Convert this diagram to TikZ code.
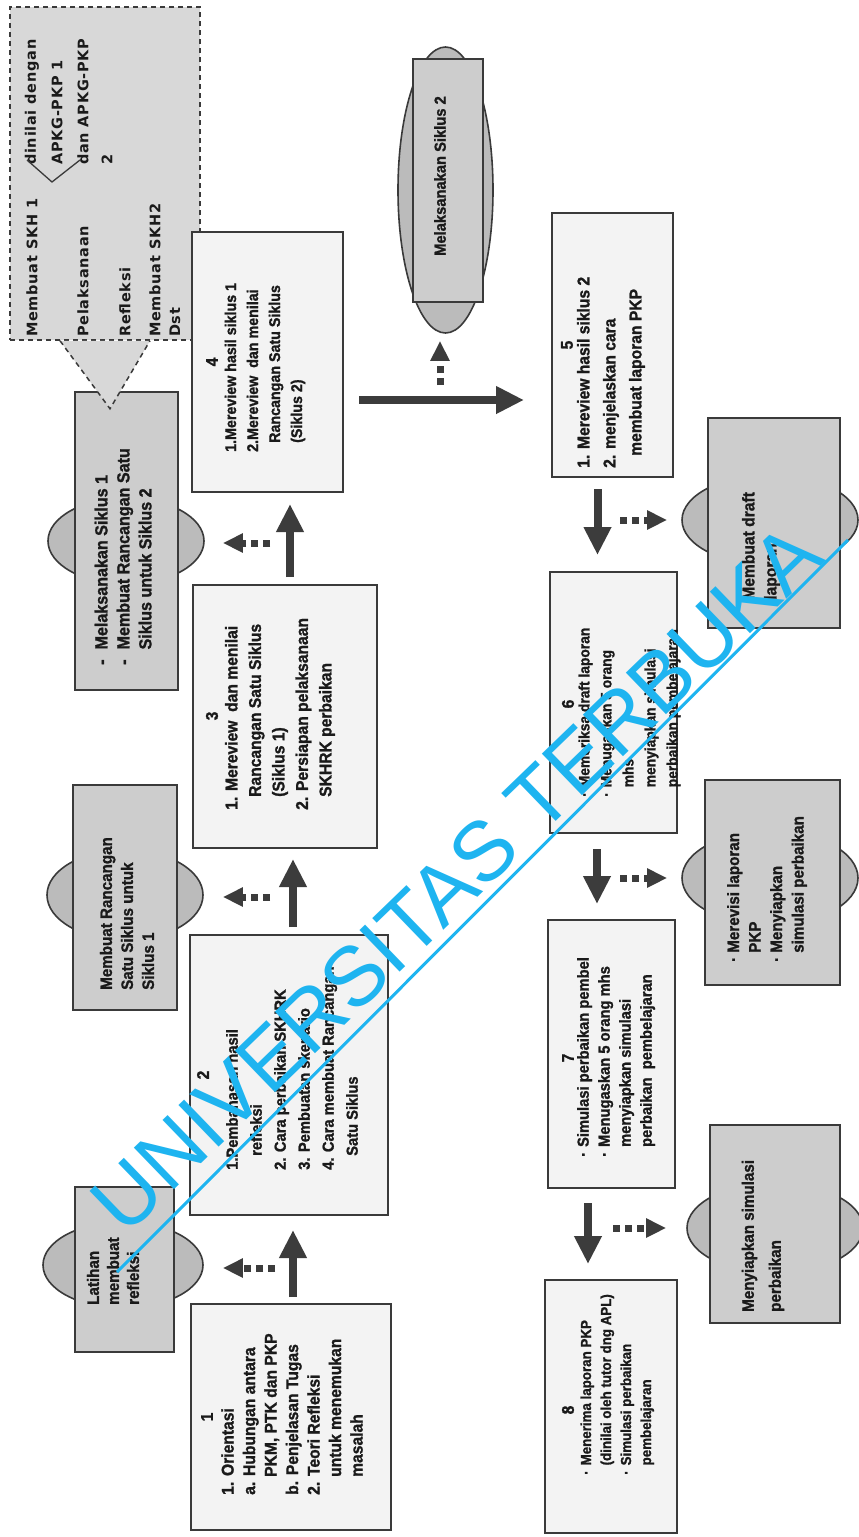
\documentclass[tikz,border=0pt]{standalone}
\usepackage{fontspec}
\setmainfont{Liberation Sans}
\newfontfamily\bx{Liberation Sans}[UprightFont={* Bold},FakeStretch=0.92,FakeBold=1.3]
\newfontfamily\dashfont{DejaVu Sans}[UprightFont={* Bold},LetterSpace=5]
\newfontfamily\wmfont{Liberation Sans}
\usetikzlibrary{arrows.meta,shapes.geometric}
\definecolor{ink}{HTML}{1A1A1A}
\definecolor{boxline}{HTML}{3A3A3A}
\definecolor{boxfill}{HTML}{F3F3F3}
\definecolor{grayfill}{HTML}{CDCDCD}
\definecolor{ovalfill}{HTML}{BBBBBB}
\definecolor{dashfill}{HTML}{D8D8D8}
\definecolor{arrowc}{HTML}{3C3C3C}
\definecolor{wmcyan}{HTML}{1EB4F0}
\begin{document}
\begin{tikzpicture}[x=1pt,y=-1pt,
  box/.style={draw=boxline,line width=2pt,fill=boxfill,rectangle,inner sep=0},
  grayrect/.style={draw=boxline,line width=1.6pt,fill=grayfill,rectangle,inner sep=0},
  oval/.style={ellipse,draw=boxline,line width=1.6pt,fill=ovalfill,inner sep=0},
  dashbox/.style={draw=boxline,line width=1.5pt,dash pattern=on 5pt off 4pt,fill=dashfill,rectangle,inner sep=0},
  txt/.style={rotate=90,anchor=west,inner sep=0,align=left,text=ink},
  num/.style={rotate=90,inner sep=0,text=ink,font=\bx\fontsize{17}{22}\selectfont},
  dtxt/.style={rotate=90,anchor=west,inner sep=0,text=ink,font=\dashfont\fontsize{14.5}{18}\selectfont},
  bigarrow/.style={draw=arrowc,line width=8pt,-{Triangle[width=26pt,length=28pt]}},
  dotarrow/.style={draw=arrowc,line width=7pt,dash pattern=on 7pt off 5pt,-{Triangle[width=18pt,length=20pt]}}
]
\useasboundingbox (0,0) rectangle (859,1537);
\fill[white] (0,0) rectangle (859,1537);

% ---------- dashed note box ----------
\node[dashbox,minimum width=190pt,minimum height=333pt] (db) at (105,173.5) {};

% ---------- gray ovals + rects ----------
\node[oval,minimum width=160pt,minimum height=86pt] (o1) at (123,1265) {};
\node[grayrect,minimum width=99pt,minimum height=165pt] (g1) at (124.5,1269.5) {};
\node[oval,minimum width=156pt,minimum height=90pt] (o2) at (125,895) {};
\node[grayrect,minimum width=104pt,minimum height=225pt] (g2) at (125,897.5) {};
\node[oval,minimum width=156pt,minimum height=86pt] (o3) at (126,541) {};
\node[grayrect,minimum width=103pt,minimum height=298pt] (g3) at (126.5,541) {};
\node[oval,minimum width=95pt,minimum height=286pt] (o4) at (445.5,190) {};
\node[grayrect,minimum width=70pt,minimum height=243pt] (g4) at (448,180.5) {};
\node[oval,minimum width=176pt,minimum height=90pt] (o5) at (770,520) {};
\node[grayrect,minimum width=132pt,minimum height=210pt] (g5) at (774,523) {};
\node[oval,minimum width=176pt,minimum height=94pt] (o6) at (770,878) {};
\node[grayrect,minimum width=135pt,minimum height=205pt] (g6) at (772.5,882.5) {};
\node[oval,minimum width=176pt,minimum height=90pt] (o7) at (775,1228) {};
\node[grayrect,minimum width=130pt,minimum height=198pt] (g7) at (775,1224) {};

% callout triangle
\fill[dashfill] ([xshift=-45pt]db.south) -- ([xshift=45pt]db.south) -- ([xshift=5pt,yshift=-68pt]db.south) -- cycle;
\draw[draw=boxline,line width=1.5pt,dash pattern=on 5pt off 4pt]
  ([xshift=-45pt]db.south) -- ([xshift=5pt,yshift=-68pt]db.south) -- ([xshift=45pt]db.south);

% ---------- white step boxes ----------
\node[box,minimum width=200pt,minimum height=226pt] (b1) at (291,1417) {};
\node[box,minimum width=198pt,minimum height=280pt] (b2) at (289,1075) {};
\node[box,minimum width=184pt,minimum height=263pt] (b3) at (285,716.5) {};
\node[box,minimum width=151pt,minimum height=260pt] (b4) at (267.5,362) {};
\node[box,minimum width=121pt,minimum height=264pt] (b5) at (612.5,345) {};
\node[box,minimum width=127pt,minimum height=261pt] (b6) at (613.5,702.5) {};
\node[box,minimum width=127pt,minimum height=268pt] (b7) at (611.5,1054) {};
\node[box,minimum width=132pt,minimum height=253pt] (b8) at (611,1406.5) {};

% ---------- numbers ----------
\node[num] (n1) at (207,1417) {1};
\node[num] (n2) at (203,1075) {2};
\node[num] (n3) at (212,716) {3};
\node[num] (n4) at (212,362) {4};
\node[num] (n5) at (567,345) {5};
\node[num] (n6) at (568,704) {6};
\node[num] (n7) at (568,1058) {7};
\node[num] (n8) at (568,1410) {8};

% ---------- box texts ----------
\node[txt,font=\bx\fontsize{17}{21.5}\selectfont] (t1) at (292,1495)
 {1. Orientasi\\a. Hubungan antara\\\hspace*{18pt}PKM, PTK dan PKP\\b. Penjelasan Tugas\\2. Teori Refleksi\\\hspace*{18pt}untuk menemukan\\\hspace*{18pt}masalah};
\node[txt,font=\bx\fontsize{16}{24}\selectfont] (t2) at (292,1170)
 {1.Pembahasan hasil\\\hspace*{14pt}refleksi\\2. Cara perbaikan SKHRK\\3. Pembuatan skenario\\4. Cara membuat Rancangan\\\hspace*{14pt}Satu Siklus};
\node[txt,font=\bx\fontsize{17}{23.5}\selectfont] (t3) at (280,810)
 {1. Mereview\ \ dan menilai\\\hspace*{13pt}Rancangan Satu Siklus\\\hspace*{13pt}(Siklus 1)\\2. Persiapan pelaksanaan\\\hspace*{13pt}SKHRK perbaikan};
\node[txt,font=\bx\fontsize{15.5}{22}\selectfont] (t4) at (265,452)
 {1.Mereview hasil siklus 1\\2.Mereview\ \ dan menilai\\\hspace*{9pt}Rancangan Satu Siklus\\\hspace*{9pt}(Siklus 2)};
\node[txt,font=\bx\fontsize{17}{26}\selectfont] (t5) at (611,468)
 {1. Mereview hasil siklus 2\\2. menjelaskan cara\\\hspace*{12pt}membuat laporan PKP};
\node[txt,font=\bx\fontsize{15}{22}\selectfont] (t6) at (629,797)
 {\begin{tabular}{@{}l@{\hspace{5pt}}l@{}}·&Memeriksa draft laporan\\·&Menugaskan 5 orang\\&mhs\\&menyiapkan simulasi\\&perbaikan pembelajaran\end{tabular}};
\node[txt,font=\bx\fontsize{16}{21}\selectfont] (t7) at (616,1157)
 {\begin{tabular}{@{}l@{\hspace{5pt}}l@{}}·&Simulasi perbaikan pembel\\·&Menugaskan 5 orang mhs\\&menyiapkan simulasi\\&perbaikan\ \ pembelajaran\end{tabular}};
\node[txt,font=\bx\fontsize{14.5}{20}\selectfont] (t8) at (617,1475)
 {\begin{tabular}{@{}l@{\hspace{5pt}}l@{}}·&Menerima laporan PKP\\&(dinilai oleh tutor dng APL)\\·&Simulasi perbaikan\\&pembelajaran\end{tabular}};

% ---------- gray texts ----------
\node[txt,font=\bx\fontsize{16.5}{20}\selectfont] (gt1) at (113,1305) {Latihan\\membuat\\refleksi};
\node[txt,font=\bx\fontsize{16.5}{21}\selectfont] (gt2) at (127,990) {Membuat Rancangan\\Satu Siklus untuk\\Siklus 1};
\node[txt,font=\bx\fontsize{17.5}{22}\selectfont] (gt3) at (125,665)
 {\begin{tabular}{@{}l@{\hspace{10pt}}l@{}}-&Melaksanakan Siklus 1\\-&Membuat Rancangan Satu\\&Siklus untuk Siklus 2\end{tabular}};
\node[rotate=90,inner sep=0,text=ink,font=\bx\fontsize{16}{22}\selectfont] (gt4) at (440,176) {Melaksanakan Siklus 2};
\node[txt,font=\bx\fontsize{17}{22}\selectfont] (gt5) at (761,600) {Membuat draft\\laporan};
\node[txt,font=\bx\fontsize{16.5}{21.5}\selectfont] (gt6) at (767,962)
 {\begin{tabular}{@{}l@{\hspace{4pt}}l@{}}·&Merevisi laporan\\&PKP\\·&Menyiapkan\\&simulasi perbaikan\end{tabular}};
\node[txt,font=\bx\fontsize{16.5}{27}\selectfont] (gt7) at (763,1312) {Menyiapkan simulasi\\perbaikan};

% ---------- dashed box texts ----------
\node[dtxt] (d1) at (32,337) {Membuat SKH 1};
\node[dtxt] (d2) at (83,337) {Pelaksanaan};
\node[dtxt] (d3) at (125,337) {Refleksi};
\node[dtxt] (d4) at (155,337) {Membuat SKH2};
\node[dtxt] (d5) at (175,337) {Dst};
\node[dtxt] (d6) at (32,165) {dinilai dengan};
\node[dtxt] (d7) at (57,165) {APKG-PKP 1};
\node[dtxt] (d8) at (83,165) {dan APKG-PKP};
\node[dtxt] (d9) at (107,165) {2};
\draw[boxline,line width=1.3pt] (27,160) -- (52,182) -- (80,160);

% ---------- thick arrows ----------
\draw[bigarrow,shorten <=6pt,shorten >=14pt] ([xshift=2pt]b1.north) -- ([xshift=2pt]b1.north |- b2.south);
\draw[bigarrow,shorten <=7pt,shorten >=10pt] ([xshift=4pt]b2.north) -- ([xshift=4pt]b2.north |- b3.south);
\draw[bigarrow,shorten <=7pt,shorten >=11pt] ([xshift=5pt]b3.north) -- ([xshift=5pt]b3.north |- b4.south);
\draw[bigarrow,shorten <=15pt,shorten >=27pt] ([yshift=-38pt]b4.east) -- ([yshift=-38pt]b4.east -| b5.west);
\draw[bigarrow,shorten <=11pt,shorten >=16pt] ([xshift=-15pt]b5.south) -- ([xshift=-15pt]b5.south |- b6.north);
\draw[bigarrow,shorten <=15pt,shorten >=15pt] ([xshift=-16.5pt]b6.south) -- ([xshift=-16.5pt]b6.south |- b7.north);
\draw[bigarrow,shorten <=14pt,shorten >=15pt] ([xshift=-23.5pt]b7.south) -- ([xshift=-23.5pt]b7.south |- b8.north);

% ---------- dotted arrows ----------
\coordinate (s1) at (275,1268);
\coordinate (s2) at (270,897);
\coordinate (s3) at (270,543);
\coordinate (s4) at (440,385);
\coordinate (s5) at (620,520);
\coordinate (s6) at (620,878);
\coordinate (s7) at (613,1228);
\draw[dotarrow,shorten >=19pt] (s1) -- (s1 -| o1.east);
\draw[dotarrow,shorten >=19pt] (s2) -- (s2 -| o2.east);
\draw[dotarrow,shorten >=18pt] (s3) -- (s3 -| o3.east);
\draw[dotarrow,shorten >=7pt] (s4) -- (s4 |- o4.south);
\draw[dotarrow,shorten >=14pt] (s5) -- (s5 -| o5.west);
\draw[dotarrow,shorten >=14pt] (s6) -- (s6 -| o6.west);
\draw[dotarrow,shorten >=20pt] (s7) -- (s7 -| o7.west);

% ---------- watermark ----------
\node[rotate=44,inner sep=0,text=wmcyan,font=\wmfont\fontsize{84}{84}\selectfont] (wm) at (456,878) {UNIVERSITAS TERBUKA};
\coordinate (u1) at (117,1272);
\coordinate (u2) at (848,540);
\draw[wmcyan,line width=3pt] (u1) -- (u2);
\end{tikzpicture}
\end{document}
